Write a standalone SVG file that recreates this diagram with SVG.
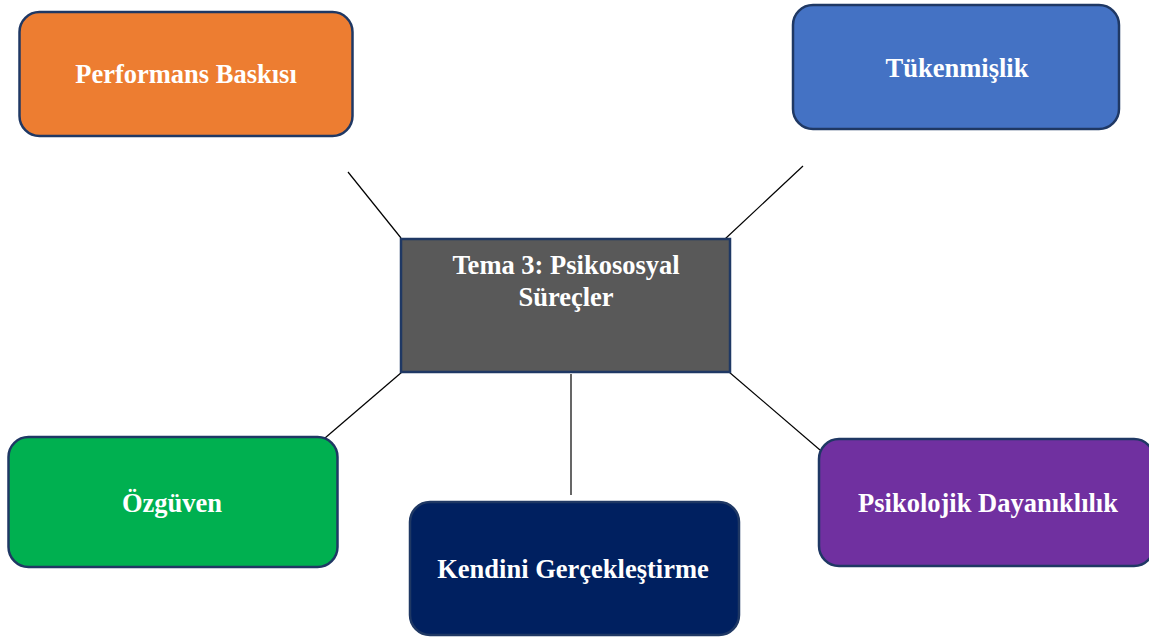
<svg xmlns="http://www.w3.org/2000/svg" width="1149" height="637" viewBox="0 0 1149 637">
<style>
.box{stroke:#1F3864;stroke-width:2.5}
.lbl{font-family:"Liberation Serif","Times New Roman",serif;font-weight:bold;font-size:26.5px;fill:#FFFFFF;text-anchor:middle}
.conn{stroke:#000000;stroke-width:1.2;fill:none}
</style>
<rect width="1149" height="637" fill="#FFFFFF"/>
<g id="connectors">
<line class="conn" x1="348" y1="172" x2="401" y2="238"/>
<line class="conn" x1="803" y1="166" x2="725" y2="239"/>
<line class="conn" x1="402" y1="372" x2="325" y2="438"/>
<line class="conn" x1="571" y1="374" x2="571" y2="495"/>
<line class="conn" x1="729" y1="372" x2="820" y2="450"/>
</g>
<g id="center">
<rect class="box" x="401" y="239" width="329" height="133" fill="#595959"/>
<text class="lbl" x="566" y="274">Tema 3: Psikososyal</text>
<text class="lbl" x="566" y="306">Süreçler</text>
</g>
<g id="performans">
<rect class="box" x="19.5" y="12" width="333" height="124" rx="20" fill="#ED7D31"/>
<text class="lbl" x="186" y="83">Performans Baskısı</text>
</g>
<g id="tukenmislik">
<rect class="box" x="793" y="5" width="326" height="124" rx="20" fill="#4472C4"/>
<text class="lbl" x="957" y="77">Tükenmişlik</text>
</g>
<g id="ozguven">
<rect class="box" x="8.5" y="437" width="329" height="130" rx="20" fill="#00B050"/>
<text class="lbl" x="172" y="512">Özgüven</text>
</g>
<g id="kendini">
<rect class="box" x="410" y="502" width="329" height="133" rx="20" fill="#002060"/>
<text class="lbl" x="573" y="578">Kendini Gerçekleştirme</text>
</g>
<g id="psikolojik">
<rect class="box" x="819" y="439" width="335" height="127" rx="20" fill="#7030A0"/>
<text class="lbl" x="988" y="512">Psikolojik Dayanıklılık</text>
</g>
</svg>
